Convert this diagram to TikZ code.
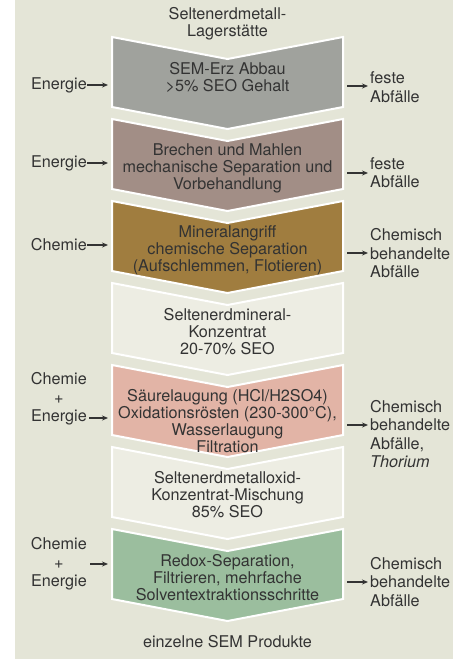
\documentclass[tikz,border=0pt]{standalone}
\usepackage{fontspec}
\setmainfont{TeX Gyre Heros}
\usetikzlibrary{arrows.meta}
\definecolor{bgpanel}{HTML}{E4E5D7}
\definecolor{txt}{HTML}{333333}
\definecolor{cgray}{HTML}{A0A29D}
\definecolor{cmauve}{HTML}{A28E86}
\definecolor{cochre}{HTML}{A07D3F}
\definecolor{clight}{HTML}{EDEDE3}
\definecolor{cpink}{HTML}{E2B4A6}
\definecolor{cgreen}{HTML}{9BBE9E}
\newcommand\mychev[3]{%
  \draw[chevline, fill=#3] (112,#1) -- (227.5,{#1+22}) -- (343,#1) -- (343,#2) -- (227.5,{#2+22}) -- (112,#2) -- cycle;}
\begin{document}
\begin{tikzpicture}[x=1pt,y=-1pt,
  chevline/.style={draw=white, line width=2pt, line join=miter},
  ctext/.style={align=center, text=txt, inner sep=0pt, font=\fontsize{16.2}{17}\selectfont},
  stext/.style={align=left, text=txt, inner sep=0pt, font=\fontsize{16.2}{18.5}\selectfont},
  ltext/.style={align=center, text=txt, inner sep=0pt, font=\fontsize{16.2}{18.5}\selectfont},
  arr/.style={draw=txt, line width=1.3pt, -{Stealth[length=6pt,width=5pt]}}]
\useasboundingbox (0,0) rectangle (453,659);
\fill[white] (0,0) rectangle (453,659);
\fill[bgpanel] (15,0) rectangle (453,659);
% chevrons
\mychev{37}{107}{cgray}
\mychev{119}{189}{cmauve}
\mychev{201}{271}{cochre}
\mychev{283}{353}{clight}
\mychev{365}{435}{cpink}
\mychev{447}{517}{clight}
\mychev{529}{599}{cgreen}
% centre texts
\node[ctext] (top) at (227.5,24) {Seltenerdmetall-\\Lagerstätte};
\node[ctext] (t1) at (227.5,78) {SEM-Erz Abbau\\>5\% SEO Gehalt};
\node[ctext] (t2) at (227.5,168.5) {Brechen und Mahlen\\mechanische Separation und\\Vorbehandlung};
\node[ctext] (t3) at (227.5,250) {Mineralangriff\\chemische Separation\\(Aufschlemmen, Flotieren)};
\node[ctext] (t4) at (227.5,331.5) {Seltenerdmineral-\\Konzentrat\\20-70\% SEO};
\node[ctext] (t5) at (227.5,421.5) {Säurelaugung (HCl/H2SO4)\\Oxidationsrösten (230-300°C),\\Wasserlaugung\\Filtration};
\node[ctext] (t6) at (227.5,495) {Seltenerdmetalloxid-\\Konzentrat-Mischung\\85\% SEO};
\node[ctext] (t7) at (227.5,577.5) {Redox-Separation,\\Filtrieren, mehrfache\\Solventextraktionsschritte};
\node[ctext] (bot) at (227.5,642) {einzelne SEM Produkte};
% left inputs
\node[ltext, anchor=east] (l1) at (87,85) {Energie};
\node[ltext, anchor=east] (l2) at (87,163) {Energie};
\node[ltext, anchor=east] (l3) at (87,245) {Chemie};
\node[ltext, anchor=east] (l5) at (87,399) {Chemie\\+\\Energie};
\node[ltext, anchor=east] (l7) at (87,564) {Chemie\\+\\Energie};
\coordinate (l1e) at (108,85);
\coordinate (l2e) at (108,163);
\coordinate (l3e) at (108,245);
\coordinate (l5s) at (89,418);
\coordinate (l5e) at (108,418);
\coordinate (l7s) at (90,564);
\coordinate (l7e) at (108,564);
\draw[arr] (l1.east) -- (l1e);
\draw[arr] (l2.east) -- (l2e);
\draw[arr] (l3.east) -- (l3e);
\draw[arr] (l5s) -- (l5e);
\draw[arr] (l7s) -- (l7e);
% right outputs
\node[stext, anchor=west] (r1) at (370,87) {feste\\Abfälle};
\node[stext, anchor=west] (r2) at (370,172.5) {feste\\Abfälle};
\node[stext, anchor=west] (r3) at (370,253.5) {Chemisch\\behandelte\\Abfälle};
\node[stext, anchor=west] (r5) at (370,434) {Chemisch\\behandelte\\Abfälle,\\\textit{Thorium}};
\node[stext, anchor=west] (r7) at (370,582) {Chemisch\\behandelte\\Abfälle};
\coordinate (r1s) at (347,86);
\coordinate (r1e) at (368,86);
\coordinate (r2s) at (347,173);
\coordinate (r2e) at (368,173);
\coordinate (r3s) at (347,253);
\coordinate (r3e) at (368,253);
\coordinate (r5s) at (347,425);
\coordinate (r5e) at (368,425);
\coordinate (r7s) at (347,582);
\coordinate (r7e) at (368,582);
\draw[arr] (r1s) -- (r1e);
\draw[arr] (r2s) -- (r2e);
\draw[arr] (r3s) -- (r3e);
\draw[arr] (r5s) -- (r5e);
\draw[arr] (r7s) -- (r7e);
\end{tikzpicture}
\end{document}
